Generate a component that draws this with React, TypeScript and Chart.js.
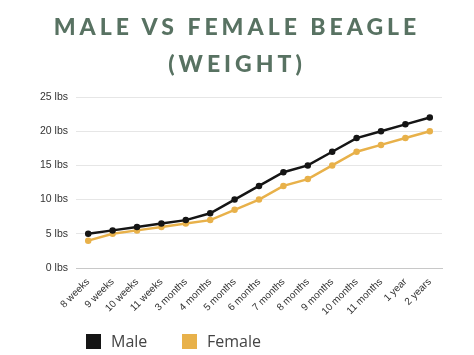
import React, { useEffect, useRef } from "react";
import { Chart, registerables } from "chart.js";

Chart.register(...registerables);

const categories = [
  "8 weeks", "9 weeks", "10 weeks", "11 weeks", "3 months", "4 months", "5 months",
  "6 months", "7 months", "8 months", "9 months", "10 months", "11 months", "1 year", "2 years",
];
const maleWeights = [5, 5.5, 6, 6.5, 7, 8, 10, 12, 14, 15, 17, 19, 20, 21, 22];
const femaleWeights = [4, 5, 5.5, 6, 6.5, 7, 8.5, 10, 12, 13, 15, 17, 18, 19, 20];
const yTicks = [0, 5, 10, 15, 20, 25];
const titleLines = ["MALE VS FEMALE BEAGLE", "(WEIGHT)"];
const seriesNames = ["Male", "Female"];
const seriesColors = ["#151515", "#e8b14a"];

export default function App() {
  const ref = useRef<HTMLCanvasElement>(null);
  useEffect(() => {
    if (!ref.current) return;
    const chart = new Chart(ref.current, {
      type: "line",
      data: {
        labels: categories,
        datasets: [
          {
            label: seriesNames[0],
            data: maleWeights,
            borderColor: seriesColors[0],
            backgroundColor: seriesColors[0],
            borderWidth: 2.5,
            pointRadius: 2,
            tension: 0,
          },
          {
            label: seriesNames[1],
            data: femaleWeights,
            borderColor: seriesColors[1],
            backgroundColor: seriesColors[1],
            borderWidth: 2.5,
            pointRadius: 2,
            tension: 0,
          },
        ],
      },
      options: {
        animation: false,
        responsive: false,
        layout: { padding: { left: 0, right: 32, top: 97, bottom: 27 } },
        plugins: { legend: { display: false }, title: { display: false }, tooltip: { enabled: false } },
        scales: {
          x: {
            offset: true,
            grid: { display: false, drawTicks: false },
            border: { display: true, color: "#c8c8c8", width: 1 },
            ticks: {
              minRotation: 45,
              maxRotation: 45,
              autoSkip: false,
              padding: 8,
              color: "#333",
              font: { family: "Liberation Sans", size: 10 },
            },
            afterFit: (s: any) => { s.height = 60; },
          },
          y: {
            min: 0,
            max: 25,
            afterBuildTicks: (s: any) => { s.ticks = yTicks.map((v) => ({ value: v })); },
            grid: { color: "#e6e6e6", drawTicks: false, lineWidth: 1 },
            border: { display: false },
            ticks: {
              padding: 8,
              color: "#333",
              font: { family: "Liberation Sans", size: 10.5 },
              callback: (v: any) => `${v} lbs`,
            },
            afterFit: (s: any) => { s.width = 76; },
          },
        },
      },
    });
    return () => chart.destroy();
  }, []);

  return (
    <div style={{ position: "fixed", left: 0, top: 0, width: 474, height: 355, background: "#fff", overflow: "hidden" }}>
      <canvas ref={ref} width={474} height={355} style={{ position: "absolute", left: 0, top: 0 }} />
      <div
        style={{
          position: "absolute",
          left: 0,
          top: 8,
          width: 474,
          textAlign: "center",
          fontFamily: "Lato, 'Open Sans', sans-serif",
          fontWeight: 900,
          fontSize: 23,
          lineHeight: "37px",
          letterSpacing: 4,
          color: "#587262",
        }}
      >
        {titleLines.map((t) => (
          <div key={t}>{t}</div>
        ))}
      </div>
      {seriesNames.map((n, i) => (
        <div key={n} style={{ position: "absolute", left: i === 0 ? 86 : 182, top: 330, display: "flex", alignItems: "center" }}>
          <div style={{ width: 15, height: 15, background: seriesColors[i] }} />
          <span style={{ marginLeft: 10, fontFamily: "'Open Sans', sans-serif", fontSize: 16, color: "#444" }}>{n}</span>
        </div>
      ))}
    </div>
  );
}
